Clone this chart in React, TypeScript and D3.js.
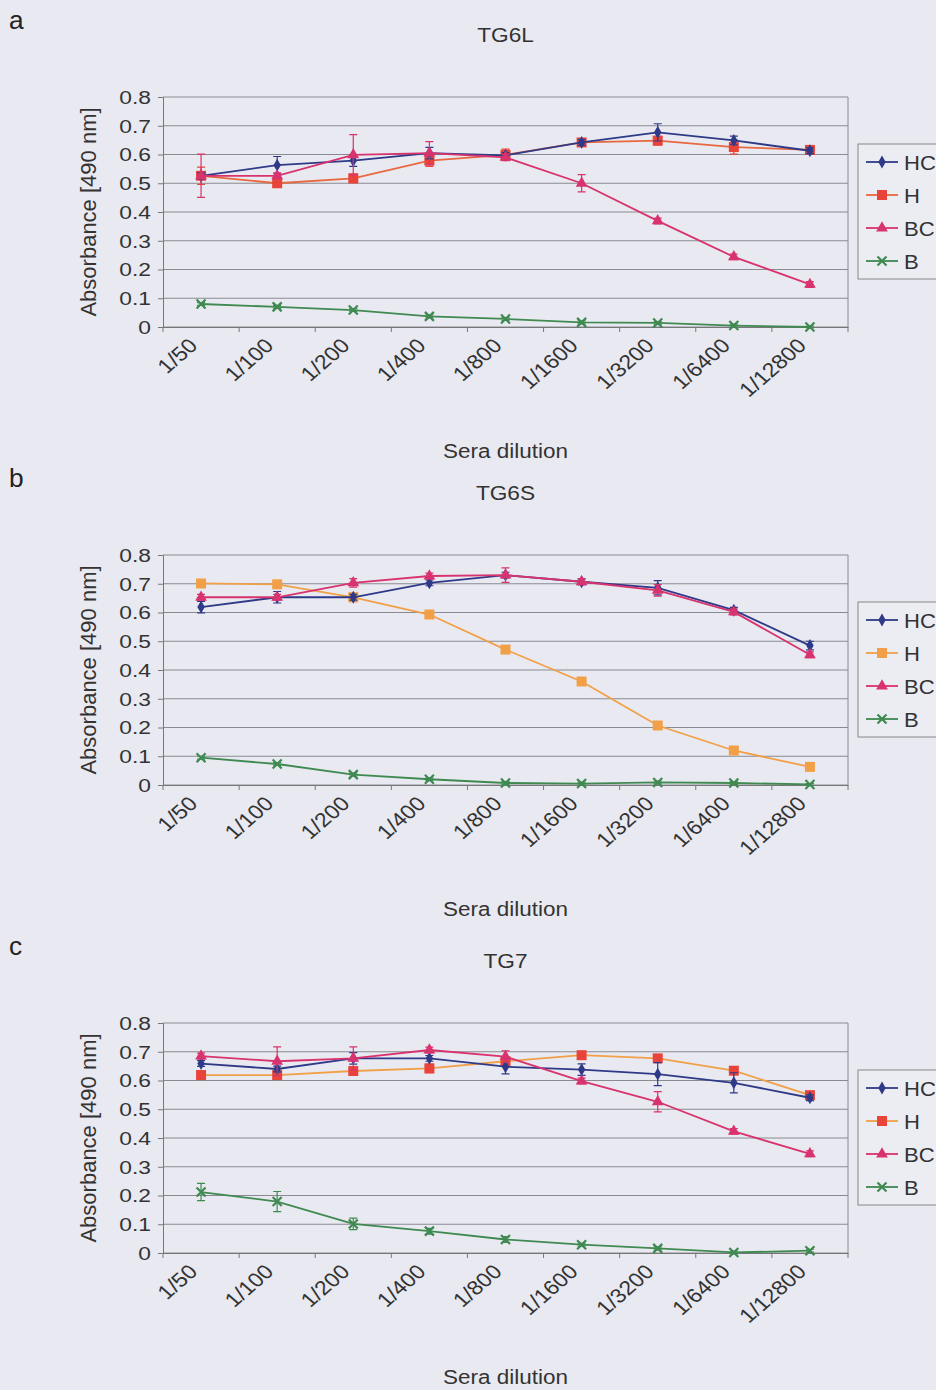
import React, { useEffect, useRef } from 'react';
import * as d3 from 'd3';

const dilutions = ['1/50', '1/100', '1/200', '1/400', '1/800', '1/1600', '1/3200', '1/6400', '1/12800'];
const yTicks = [0, 0.1, 0.2, 0.3, 0.4, 0.5, 0.6, 0.7, 0.8];
const seriesNames = ['HC', 'H', 'BC', 'B'];

// TG6L
const hcA = [0.526, 0.563, 0.579, 0.605, 0.597, 0.642, 0.677, 0.649, 0.613];
const hA = [0.526, 0.5, 0.517, 0.579, 0.599, 0.642, 0.648, 0.626, 0.616];
const bcA = [0.526, 0.526, 0.599, 0.605, 0.59, 0.5, 0.369, 0.244, 0.148];
const bA = [0.08, 0.07, 0.059, 0.037, 0.028, 0.016, 0.014, 0.005, 0.0];
const hcAErr = [0.01, 0.03, 0.02, 0.02, 0.01, 0.01, 0.03, 0.015, 0.01];
const hAErr = [0.03, 0.01, 0.015, 0.02, 0.02, 0.01, 0.015, 0.025, 0.015];
const bcAErr = [0.075, 0.01, 0.07, 0.04, 0.01, 0.03, 0.01, 0.01, 0.01];
const bAErr = [0.005, 0.005, 0.005, 0.005, 0.005, 0.005, 0.005, 0.005, 0.003];

// TG6S
const hcB = [0.619, 0.653, 0.653, 0.703, 0.73, 0.707, 0.686, 0.608, 0.485];
const hB = [0.701, 0.698, 0.653, 0.593, 0.471, 0.36, 0.207, 0.12, 0.063];
const bcB = [0.653, 0.653, 0.703, 0.727, 0.73, 0.707, 0.677, 0.602, 0.453];
const bB = [0.095, 0.073, 0.036, 0.02, 0.007, 0.005, 0.009, 0.007, 0.002];
const hcBErr = [0.02, 0.02, 0.01, 0.01, 0.01, 0.01, 0.025, 0.01, 0.015];
const hBErr = [0.01, 0.01, 0.015, 0.01, 0.01, 0.01, 0.01, 0.01, 0.01];
const bcBErr = [0.01, 0.01, 0.015, 0.01, 0.025, 0.01, 0.02, 0.01, 0.01];
const bBErr = [0.005, 0.005, 0.005, 0.005, 0.005, 0.005, 0.005, 0.005, 0.003];

// TG7
const hcC = [0.659, 0.64, 0.677, 0.677, 0.648, 0.638, 0.622, 0.592, 0.54];
const hC = [0.619, 0.619, 0.633, 0.642, 0.667, 0.688, 0.677, 0.634, 0.549];
const bcC = [0.685, 0.667, 0.677, 0.706, 0.683, 0.598, 0.526, 0.423, 0.345];
const bC = [0.212, 0.179, 0.101, 0.076, 0.047, 0.029, 0.016, 0.002, 0.008];
const hcCErr = [0.01, 0.01, 0.02, 0.01, 0.025, 0.02, 0.04, 0.035, 0.01];
const hCErr = [0.01, 0.01, 0.01, 0.015, 0.01, 0.01, 0.01, 0.01, 0.01];
const bcCErr = [0.01, 0.05, 0.04, 0.01, 0.02, 0.01, 0.035, 0.01, 0.01];
const bCErr = [0.03, 0.035, 0.02, 0.01, 0.01, 0.005, 0.005, 0.005, 0.005];

const panels = [
  { letter: 'a', title: 'TG6L', top: 97, values: [hcA, hA, bcA, bA], errs: [hcAErr, hAErr, bcAErr, bAErr], hLine: '#e8683f', hMark: '#e8443a' },
  { letter: 'b', title: 'TG6S', top: 555, values: [hcB, hB, bcB, bB], errs: [hcBErr, hBErr, bcBErr, bBErr], hLine: '#f2a048', hMark: '#f2a048' },
  { letter: 'c', title: 'TG7', top: 1023, values: [hcC, hC, bcC, bC], errs: [hcCErr, hCErr, bcCErr, bCErr], hLine: '#f0a048', hMark: '#e8443a' },
];

const FONT = 'Liberation Sans, Arial, sans-serif';

const App = () => {
  const ref = useRef<SVGSVGElement | null>(null);

  useEffect(() => {
    if (!ref.current) return;
    const svg = d3.select(ref.current);
    svg.selectAll('*').remove();

    svg.append('rect').attr('width', 936).attr('height', 1390).attr('fill', '#e9e9f1');

    const left = 163, right = 848, plotH = 230;

    const x = d3.scaleBand().domain(dilutions).range([left, right]);

    // the scan is slightly stretched horizontally, so text gets a small x scale
    const label = (sel: any, tx: number, ty: number, sx: number, size: number, anchor: string, txt: string, extra = '') =>
      sel.append('text').attr('transform', `translate(${tx},${ty}) scale(${sx},1)${extra}`)
        .attr('text-anchor', anchor).attr('font-family', FONT).attr('font-size', size).attr('fill', '#333').text(txt);

    panels.forEach(p => {
      const y = d3.scaleLinear().domain([0, 0.8]).range([p.top + plotH, p.top]);
      const g = svg.append('g');
      const colors = ['#2e3a87', p.hLine, '#d8336e', '#3f8a50'];
      const markColors = ['#2e3a87', p.hMark, '#d8336e', '#3f8a50'];

      // panel letter and title
      label(g, 9, p.top - 68, 1.05, 25, 'start', p.letter).attr('fill', '#222');
      label(g, (left + right) / 2, p.top - 55, 1.08, 21, 'middle', p.title);

      // gridlines
      g.append('g').selectAll('line').data(yTicks).enter().append('line')
        .attr('x1', left).attr('x2', right).attr('y1', d => y(d)).attr('y2', d => y(d))
        .attr('stroke', '#8a8a92').attr('stroke-width', 1);
      g.append('line').attr('x1', right).attr('x2', right).attr('y1', p.top).attr('y2', p.top + plotH)
        .attr('stroke', '#8a8a92');

      // y axis
      const yAxis = g.append('g').attr('transform', `translate(${left},0)`)
        .call(d3.axisLeft(y).tickValues(yTicks).tickSize(5).tickFormat(() => ''));
      yAxis.select('.domain').attr('stroke', '#777');
      yAxis.selectAll('.tick line').attr('stroke', '#777');
      yTicks.forEach(t => {
        label(g, left - 12, y(t), 1.2, 19, 'end', t === 0 ? '0' : d3.format('.1f')(t)).attr('dy', '0.36em');
      });

      // x axis
      const xAxis = g.append('g').attr('transform', `translate(0,${p.top + plotH})`)
        .call(d3.axisBottom(x).tickSize(0).tickFormat(() => ''));
      xAxis.select('.domain').attr('stroke', '#777');
      g.append('g').selectAll('line').data(d3.range(dilutions.length + 1)).enter().append('line')
        .attr('x1', i => left + i * x.step()).attr('x2', i => left + i * x.step())
        .attr('y1', p.top + plotH).attr('y2', p.top + plotH + 5).attr('stroke', '#777');
      dilutions.forEach(d => {
        label(g, (x(d) as number) + x.bandwidth() / 2 - 8, p.top + plotH + 15, 1.15, 20, 'end', d, ' rotate(-45)')
          .attr('dy', '0.35em');
      });

      // axis titles
      label(g, 96, p.top + plotH / 2, 1, 22, 'middle', 'Absorbance [490 nm]', ' rotate(-90)');
      label(g, (left + right) / 2, p.top + plotH + 131, 1.07, 21, 'middle', 'Sera dilution');

      const cx = (d: string) => (x(d) as number) + x.bandwidth() / 2;
      const line = d3.line<number>().x((_, i) => cx(dilutions[i])).y(v => y(v));

      const marker = (sel: any, k: number, px: number, py: number, col: string) => {
        if (k === 0) {
          sel.append('path').attr('d', d3.symbol(d3.symbolDiamond, 48)()).attr('transform', `translate(${px},${py})`).attr('fill', col);
        } else if (k === 1) {
          sel.append('rect').attr('x', px - 5).attr('y', py - 5).attr('width', 10).attr('height', 10).attr('fill', col);
        } else if (k === 2) {
          sel.append('path').attr('d', d3.symbol(d3.symbolTriangle, 60)()).attr('transform', `translate(${px},${py})`).attr('fill', col);
        } else {
          sel.append('path').attr('d', `M${px - 4.5},${py - 4.5}L${px + 4.5},${py + 4.5}M${px - 4.5},${py + 4.5}L${px + 4.5},${py - 4.5}`)
            .attr('stroke', col).attr('stroke-width', 2.2);
        }
      };

      // draw in order B, H, HC, BC
      [3, 1, 0, 2].forEach(k => {
        const vals = p.values[k];
        const errs = p.errs[k];
        const sg = g.append('g');
        sg.append('path').attr('d', line(vals) as string).attr('fill', 'none')
          .attr('stroke', colors[k]).attr('stroke-width', 1.8);
        vals.forEach((v, i) => {
          const px = cx(dilutions[i]);
          const e = errs[i];
          sg.append('path')
            .attr('d', `M${px},${y(v - e)}V${y(v + e)}M${px - 4},${y(v - e)}H${px + 4}M${px - 4},${y(v + e)}H${px + 4}`)
            .attr('stroke', markColors[k]).attr('stroke-width', 1.2).attr('fill', 'none');
          marker(sg, k, px, y(v), markColors[k]);
        });
      });

      // legend
      const lg = g.append('g').attr('transform', `translate(858,${p.top + 47})`);
      lg.append('rect').attr('width', 90).attr('height', 135).attr('fill', '#ececf3').attr('stroke', '#888');
      seriesNames.forEach((n, k) => {
        const ly = 18 + k * 33;
        lg.append('line').attr('x1', 8).attr('x2', 40).attr('y1', ly).attr('y2', ly)
          .attr('stroke', colors[k]).attr('stroke-width', 1.8);
        marker(lg, k, 24, ly, markColors[k]);
        label(lg, 46, ly, 1.05, 21, 'start', n).attr('dy', '0.36em');
      });
    });
  }, []);

  return (
    <div style={{ position: 'absolute', left: 0, top: 0, width: 936, height: 1390, overflow: 'hidden' }}>
      <svg ref={ref} width={936} height={1390} />
    </div>
  );
};

export default App;
